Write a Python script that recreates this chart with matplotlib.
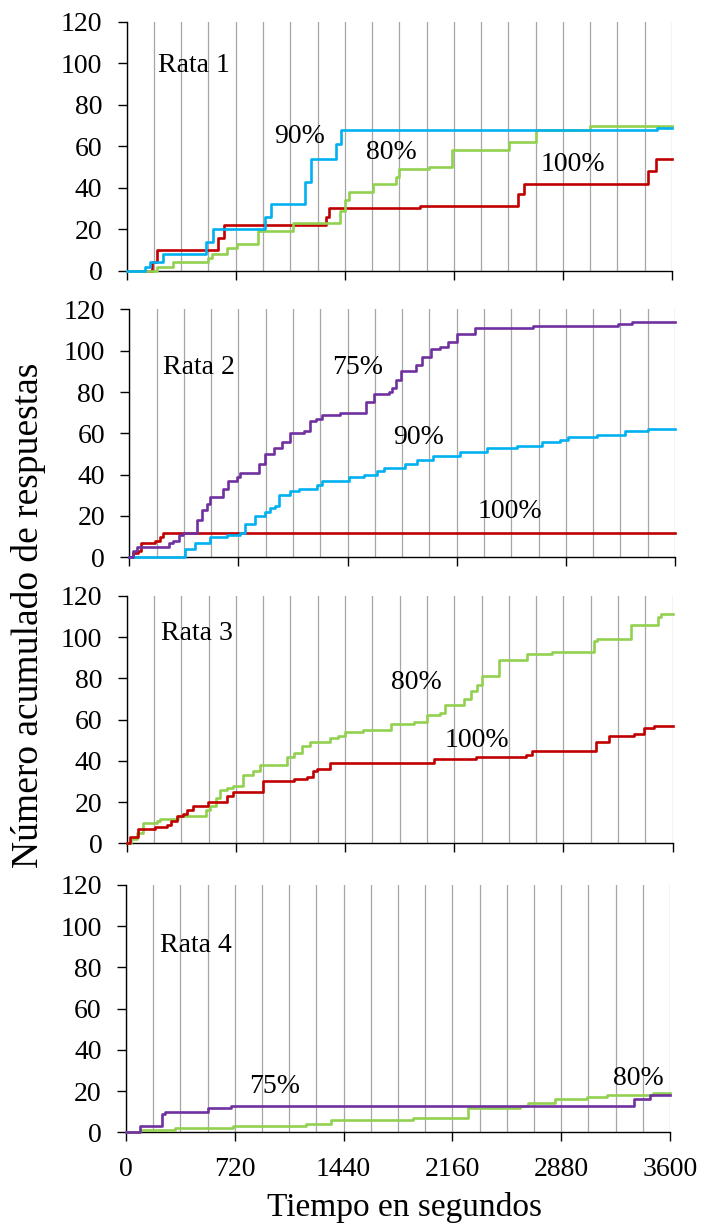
import matplotlib
matplotlib.use('Agg')
import matplotlib.pyplot as plt
import numpy as np

plt.rcParams['font.family'] = ['Liberation Serif', 'DejaVu Serif']

# colores de las series (porcentaje de reforzamiento)
ROJO = '#C00000'     # 100%
AZUL = '#00B0F0'     # 90%
VERDE = '#92D050'    # 80%
MORADO = '#7030A0'   # 75%

# ---- Rata 1 ----
r1_100_t = [0, 165, 200, 605, 640, 1315, 1335, 1935, 2585, 2620, 3440, 3495, 3600]
r1_100_v = [0, 4, 10, 16, 22, 26, 30, 31, 37, 42, 48, 54, 54]
r1_90_t = [0, 120, 155, 240, 525, 570, 915, 950, 1175, 1215, 1380, 1415, 3500, 3600]
r1_90_v = [0, 2, 4, 8, 14, 20, 26, 32, 43, 54, 61, 68, 69, 69]
r1_80_t = [0, 200, 305, 540, 560, 660, 725, 865, 1095, 1405, 1440, 1470, 1625, 1780, 1795,
           1995, 2145, 2525, 2705, 3060, 3600]
r1_80_v = [0, 2, 4, 6, 8, 11, 13, 19, 23, 29, 34, 38, 42, 45, 49, 50, 58, 62, 68, 70, 70]

# ---- Rata 2 ----
r2_75_t = [0, 25, 48, 260, 291, 330, 357, 450, 480, 511, 533, 620, 654, 709, 731, 853, 897,
           952, 1007, 1062, 1150, 1194, 1230, 1271, 1392, 1560, 1613, 1712, 1731, 1760, 1790,
           1891, 1930, 1988, 2049, 2100, 2160, 2280, 2665, 3226, 3314, 3600]
r2_75_v = [0, 3, 5, 7, 8, 11, 12, 18, 23, 26, 29, 33, 37, 39, 41, 45, 50, 53, 56, 60, 61,
           66, 67, 69, 70, 75, 79, 80, 82, 86, 90, 93, 97, 101, 102, 104, 108, 111, 112, 113,
           114, 114]
r2_90_t = [0, 368, 434, 533, 643, 731, 764, 830, 897, 930, 963, 985, 1062, 1120, 1238, 1270,
           1447, 1550, 1635, 1680, 1819, 1900, 2006, 2181, 2357, 2555, 2720, 2839, 2896, 3083,
           3270, 3424, 3600]
r2_90_v = [0, 4, 7, 10, 11, 12, 16, 20, 22, 24, 25, 30, 32, 33, 35, 37, 39, 40, 42, 43, 45,
           47, 49, 51, 53, 54, 56, 57, 58, 59, 61, 62, 62]
r2_100_t = [0, 26, 59, 75, 170, 200, 225, 3600]
r2_100_v = [0, 2, 3, 7, 8, 10, 12, 12]

# ---- Rata 3 ----
r3_80_t = [0, 30, 66, 110, 198, 220, 341, 520, 550, 590, 616, 660, 704, 770, 836, 880, 1056,
           1100, 1155, 1210, 1342, 1390, 1441, 1560, 1740, 1893, 1981, 2069, 2102, 2225, 2270,
           2310, 2345, 2455, 2642, 2807, 3082, 3100, 3324, 3500, 3522, 3600]
r3_80_v = [0, 2, 5, 10, 11, 12, 13, 16, 18, 22, 26, 27, 28, 33, 35, 38, 42, 44, 47, 49, 51,
           52, 54, 55, 58, 59, 62, 63, 67, 70, 74, 77, 81, 89, 92, 93, 98, 99, 106, 110, 111, 111]
r3_100_t = [0, 20, 77, 187, 264, 290, 330, 370, 395, 440, 539, 660, 704, 902, 1100, 1188,
            1230, 1254, 1342, 2025, 2300, 2631, 2675, 3093, 3181, 3346, 3412, 3478, 3600]
r3_100_v = [0, 3, 7, 8, 9, 11, 13, 14, 16, 18, 20, 23, 25, 30, 31, 32, 35, 36, 39, 41, 42,
            43, 45, 49, 52, 53, 56, 57, 57]

# ---- Rata 4 ----
r4_75_t = [0, 93, 236, 260, 544, 698, 3360, 3470, 3600]
r4_75_v = [0, 3, 9, 10, 12, 13, 16, 18, 18]
r4_80_t = [0, 93, 324, 709, 1194, 1359, 1901, 2265, 2607, 2660, 2839, 3049, 3181, 3490, 3600]
r4_80_v = [0, 1, 2, 3, 4, 6, 7, 12, 13, 14, 16, 17, 18, 19, 19]

paneles = [
    ('Rata 1', [(r1_100_t, r1_100_v, ROJO), (r1_80_t, r1_80_v, VERDE), (r1_90_t, r1_90_v, AZUL)],
     [('90%', 1140, 64.5), ('80%', 1745, 57), ('100%', 2947, 51)]),
    ('Rata 2', [(r2_100_t, r2_100_v, ROJO), (r2_90_t, r2_90_v, AZUL), (r2_75_t, r2_75_v, MORADO)],
     [('75%', 1507, 91.7), ('90%', 1909, 58), ('100%', 2514, 22)]),
    ('Rata 3', [(r3_80_t, r3_80_v, VERDE), (r3_100_t, r3_100_v, ROJO)],
     [('80%', 1911, 77.8), ('100%', 2307, 50)]),
    ('Rata 4', [(r4_80_t, r4_80_v, VERDE), (r4_75_t, r4_75_v, MORADO)],
     [('75%', 981, 22), ('80%', 3390, 26)]),
]

# posiciones de los ejes en fracción de figura [izq, abajo, ancho, alto]
posiciones = [
    [0.1802, 0.7799, 0.7757, 0.2024],
    [0.1839, 0.5469, 0.7762, 0.2016],
    [0.1802, 0.3144, 0.7767, 0.2011],
    [0.1792, 0.0794, 0.7738, 0.2011],
]

fig = plt.figure(figsize=(7.03, 12.3), dpi=100)

for i, (nombre, series, etiquetas) in enumerate(paneles):
    ax = fig.add_axes(posiciones[i])
    for t, v, c in series:
        ax.step(t, v, where='post', color=c, lw=1.9, zorder=3, clip_on=False)
    ax.set_xlim(0, 3600)
    ax.set_ylim(0, 120)
    ax.set_xticks(np.arange(0, 3601, 720))
    ax.set_xticks(np.arange(0, 3601, 180), minor=True)
    ax.set_yticks(np.arange(0, 121, 20))
    ax.grid(axis='x', which='both', color='#A6A6A6', lw=0.9, zorder=0)
    ax.tick_params(which='minor', length=0)
    ax.tick_params(which='major', direction='out', length=6.5, width=1.0,
                   labelsize=20, pad=11)
    for lado in ['top', 'right']:
        ax.spines[lado].set_visible(False)
    for lado in ['left', 'bottom']:
        ax.spines[lado].set_linewidth(1.0)
    if i < 3:
        ax.set_xticklabels([])
    ax.text(205 + 20 * (i > 0), [99, 91.7, 101.6, 90.6][i], nombre, fontsize=20,
            ha='left', va='center')
    for s, x, y in etiquetas:
        ax.text(x, y, s, fontsize=20, ha='center', va='center')

fig.text(0.041, 0.5, 'Número acumulado de respuestas', fontsize=27,
         rotation=90, ha='center', va='center')
fig.text(0.575, 0.018, 'Tiempo en segundos', fontsize=24, ha='center', va='center')

fig.savefig('out.png', dpi=100)
